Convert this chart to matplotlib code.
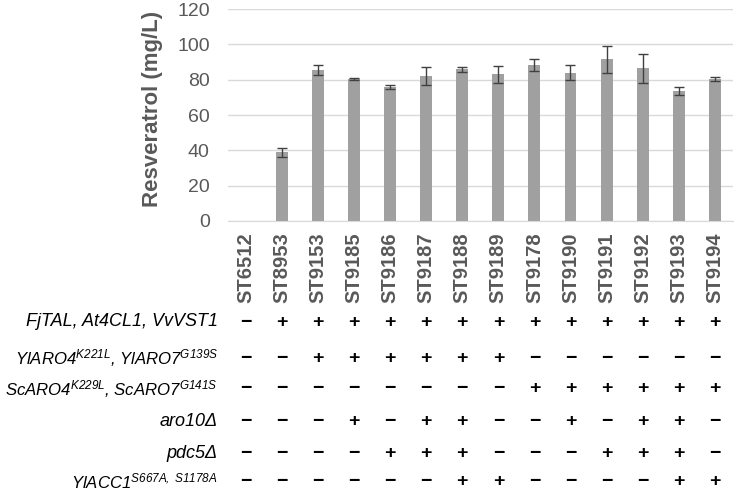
import matplotlib.pyplot as plt
import matplotlib.transforms as mtransforms

plt.rcParams['font.family'] = ['Liberation Sans', 'DejaVu Sans']
plt.rcParams['mathtext.fontset'] = 'custom'
plt.rcParams['mathtext.it'] = 'Liberation Sans:italic'
plt.rcParams['mathtext.rm'] = 'Liberation Sans:italic'

# strains and resveratrol titres (mg/L)
strains = ['ST6512', 'ST8953', 'ST9153', 'ST9185', 'ST9186', 'ST9187', 'ST9188',
           'ST9189', 'ST9178', 'ST9190', 'ST9191', 'ST9192', 'ST9193', 'ST9194']
titre = [0, 39.0, 85.3, 80.2, 75.8, 82.1, 85.9, 83.0, 88.3, 84.0, 91.5, 86.6, 73.6, 80.4]
err = [0, 2.5, 2.8, 0.5, 1.1, 5.0, 1.5, 5.0, 3.4, 4.3, 7.8, 8.2, 2.0, 1.0]

# genotype table
row_labels = [
    'FjTAL, At4CL1, VvVST1',
    r'$\mathrm{YlARO4}^{\mathrm{K221L}}$, $\mathrm{YlARO7}^{\mathrm{G139S}}$',
    r'$\mathrm{ScARO4}^{\mathrm{K229L}}$, $\mathrm{ScARO7}^{\mathrm{G141S}}$',
    'aro10Δ',
    'pdc5Δ',
    r'$\mathrm{YlACC1}^{\mathrm{S667A,\ S1178A}}$',
]
genotype = [
    '-+++++++++++++',
    '--++++++------',
    '--------++++++',
    '---+-++--+-++-',
    '----+++---+++-',
    '------++----++',
]

fig = plt.figure(figsize=(7.35, 4.9), dpi=100)
ax = fig.add_axes([0.310, 0.549, 0.687, 0.4326])

x = list(range(len(strains)))
ax.bar(x, titre, width=0.33, color='#a0a0a0', zorder=2)
ax.errorbar(x[1:], titre[1:], yerr=err[1:], fmt='none', ecolor='#404040',
            elinewidth=1, capsize=3.5, capthick=1, zorder=3)

ax.set_xlim(-0.5, len(strains) - 0.5)
ax.set_ylim(0, 120)
ax.set_yticks(range(0, 121, 20))
ax.yaxis.grid(True, color='#d9d9d9', linewidth=1, zorder=0)
for s in ['top', 'right', 'left']:
    ax.spines[s].set_visible(False)
ax.spines['bottom'].set_color('#d9d9d9')
ax.tick_params(axis='both', length=0, colors='#595959')
ax.tick_params(axis='y', pad=13, labelsize=14)
ax.tick_params(axis='x', pad=8, labelsize=14.5)
ax.set_xticks(x)
ax.set_xticklabels(strains, rotation=90, fontweight='bold')
ax.set_ylabel('Resveratrol (mg/L)', fontsize=16, fontweight='bold', color='#595959')
ax.yaxis.set_label_coords(-0.128, 0.53)

# genotype rows below the chart
trans = mtransforms.blended_transform_factory(ax.transData, fig.transFigure)
row_y = [322, 358, 389, 421, 453, 481]
for label, marks, py in zip(row_labels, genotype, row_y):
    fy = 1 - py / 490
    size = 12.1 if label.startswith('$') else 13
    fig.text(218 / 735, fy, label, ha='right', va='center', fontsize=size,
             style='italic', color='black')
    for i, m in enumerate(marks):
        sym = '+' if m == '+' else '\u2212'
        ax.text(i, fy, sym, transform=trans, ha='center', va='center',
                fontsize=14, fontweight='bold', color='black')

fig.savefig('out.png', dpi=100)
